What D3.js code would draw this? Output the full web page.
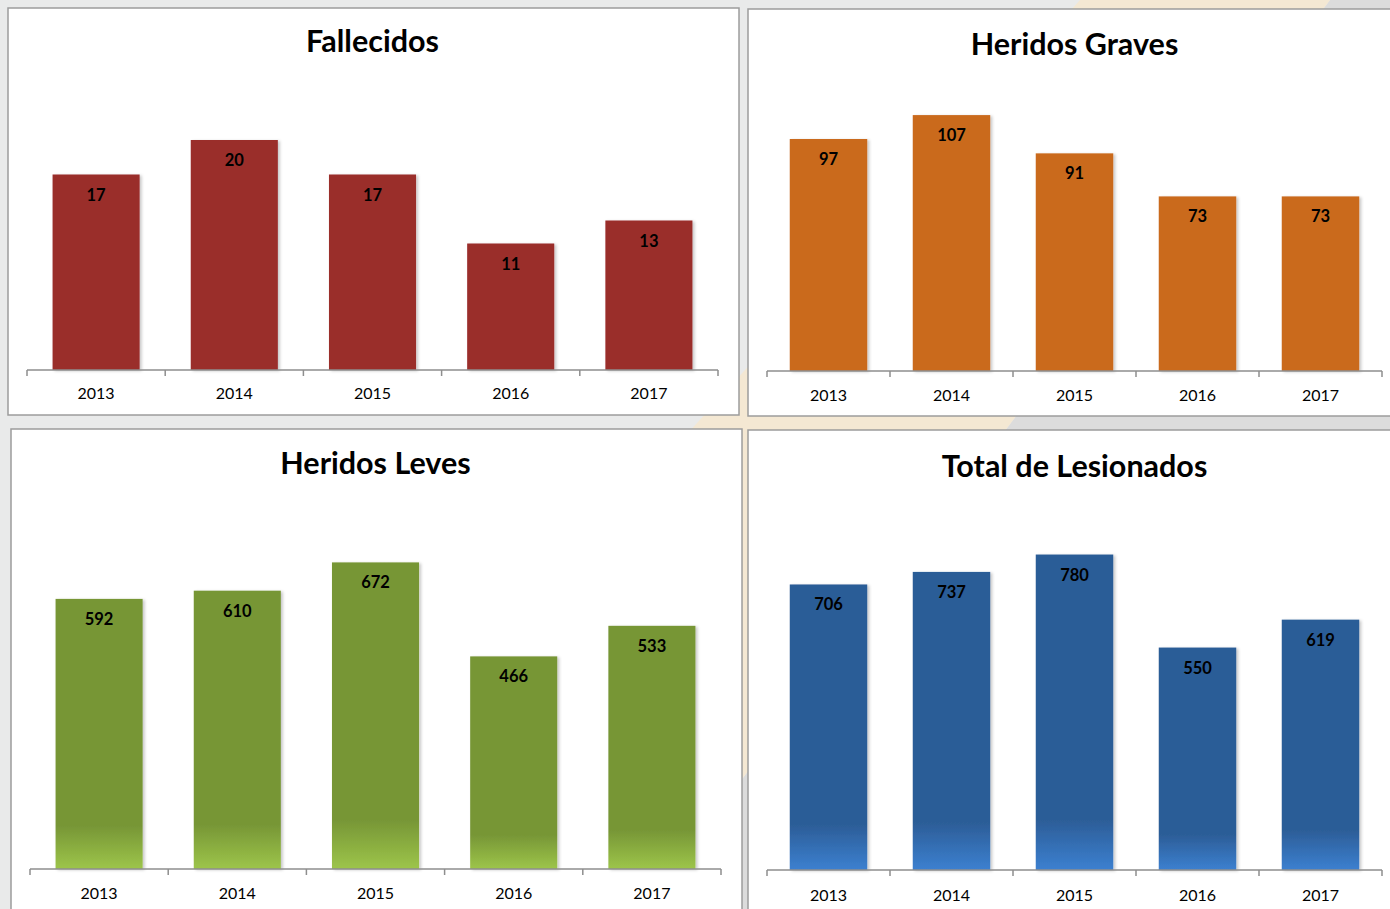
<!DOCTYPE html>
<html>
<head>
<meta charset="utf-8">
<script src="https://cdn.jsdelivr.net/npm/d3@7"></script>
<style>
  html, body { margin: 0; padding: 0; background: #e9eaea; overflow: hidden; }
  svg { display: block; font-family: Lato, "Open Sans", sans-serif; }
</style>
</head>
<body>
<svg id="chart" width="1390" height="909"></svg>
<script>
'use strict';

var years = ['2013', '2014', '2015', '2016', '2017'];
var fallecidos = [17, 20, 17, 11, 13];
var heridosGraves = [97, 107, 91, 73, 73];
var heridosLeves = [592, 610, 672, 466, 533];
var totalLesionados = [706, 737, 780, 550, 619];

// panel layout, values are pulled from the arrays above
var panels = [
  { title: 'Fallecidos', values: fallecidos, yMax: 25, color: '#9a2d2c', light: null,
    box: [8, 8, 731, 407], x: [27, 718], base: 370, top: 82.5, titleY: 52, labelY: 399 },
  { title: 'Heridos Graves', values: heridosGraves, yMax: 120, color: '#ca6a1d', light: null,
    box: [748, 9, 660, 407], x: [767, 1382], base: 371, top: 84, titleY: 55, labelY: 401 },
  { title: 'Heridos Leves', values: heridosLeves, yMax: 800, color: '#779636', light: '#9dc54a',
    box: [11, 429, 731, 500], x: [30, 721], base: 869, top: 504, titleY: 474, labelY: 899 },
  { title: 'Total de Lesionados', values: totalLesionados, yMax: 900, color: '#2c5d97', light: '#3c80d0',
    box: [748, 430, 660, 500], x: [767, 1382], base: 870, top: 506, titleY: 477, labelY: 901 }
];

var svg = d3.select('#chart');
var defs = svg.append('defs');

// drop shadow for the bars
var shadow = defs.append('filter').attr('id', 'shadow')
  .attr('x', '-10%').attr('y', '-10%').attr('width', '130%').attr('height', '120%');
shadow.append('feDropShadow')
  .attr('dx', 2).attr('dy', 1).attr('stdDeviation', 1.5)
  .attr('flood-color', '#000').attr('flood-opacity', 0.22);

// background: gray with a faint cream diagonal band
svg.append('rect').attr('width', 1390).attr('height', 909).attr('fill', '#e9eaea');
svg.append('polygon')
  .attr('points', '1330,0 1390,0 1390,909 644,909')
  .attr('fill', '#dcdcdc');
svg.append('polygon')
  .attr('points', '1080,0 1330,0 644,909 257,909')
  .attr('fill', '#f4e8d3');

panels.forEach(function(p, i) {
  var g = svg.append('g');

  g.append('rect')
    .attr('x', p.box[0]).attr('y', p.box[1])
    .attr('width', p.box[2]).attr('height', p.box[3])
    .attr('fill', '#fff')
    .attr('stroke', '#9c9c9c')
    .attr('stroke-width', 1.5);

  g.append('text')
    .attr('x', (p.x[0] + p.x[1]) / 2)
    .attr('y', p.titleY)
    .attr('text-anchor', 'middle')
    .attr('font-size', 30.5)
    .attr('font-weight', 'bold')
    .attr('fill', '#000')
    .text(p.title);

  var x = d3.scaleBand()
    .domain(years)
    .range(p.x)
    .paddingInner(0.37)
    .paddingOuter(0.185);

  var y = d3.scaleLinear()
    .domain([0, p.yMax])
    .range([p.base, p.top]);

  var fill = p.color;
  if (p.light) {
    var grad = defs.append('linearGradient')
      .attr('id', 'grad' + i)
      .attr('x1', 0).attr('y1', 0).attr('x2', 0).attr('y2', 1);
    grad.append('stop').attr('offset', '0%').attr('stop-color', p.color);
    grad.append('stop').attr('offset', '84%').attr('stop-color', p.color);
    grad.append('stop').attr('offset', '100%').attr('stop-color', p.light);
    fill = 'url(#grad' + i + ')';
  }

  var data = years.map(function(yr, k) {
    return { year: yr, value: p.values[k] };
  });

  g.selectAll('rect.bar')
    .data(data)
    .enter().append('rect')
    .attr('class', 'bar')
    .attr('x', function(d) { return x(d.year); })
    .attr('y', function(d) { return y(d.value); })
    .attr('width', x.bandwidth())
    .attr('height', function(d) { return y(0) - y(d.value); })
    .attr('fill', fill)
    .attr('filter', 'url(#shadow)');

  g.selectAll('text.val')
    .data(data)
    .enter().append('text')
    .attr('class', 'val')
    .attr('x', function(d) { return x(d.year) + x.bandwidth() / 2; })
    .attr('y', function(d) { return y(d.value) + 26; })
    .attr('text-anchor', 'middle')
    .attr('font-size', 16.5)
    .attr('font-weight', 'bold')
    .attr('fill', '#000')
    .text(function(d) { return d.value; });

  // category axis: baseline with ticks at band boundaries
  var step = x.step();
  var gap = step - x.bandwidth();
  var bounds = years.map(function(yr) { return x(yr) - gap / 2; });
  bounds.push(p.x[1]);

  g.append('line')
    .attr('x1', p.x[0]).attr('x2', p.x[1])
    .attr('y1', p.base).attr('y2', p.base)
    .attr('stroke', '#8e8e8e').attr('stroke-width', 1.5);

  g.selectAll('line.tick')
    .data(bounds)
    .enter().append('line')
    .attr('class', 'tick')
    .attr('x1', function(d) { return d; }).attr('x2', function(d) { return d; })
    .attr('y1', p.base).attr('y2', p.base + 6)
    .attr('stroke', '#8e8e8e').attr('stroke-width', 1.5);

  g.selectAll('text.year')
    .data(years)
    .enter().append('text')
    .attr('class', 'year')
    .attr('x', function(d) { return x(d) + x.bandwidth() / 2; })
    .attr('y', p.labelY)
    .attr('text-anchor', 'middle')
    .attr('font-size', 16)
    .attr('fill', '#000')
    .text(function(d) { return d; });
});
</script>
</body>
</html>
